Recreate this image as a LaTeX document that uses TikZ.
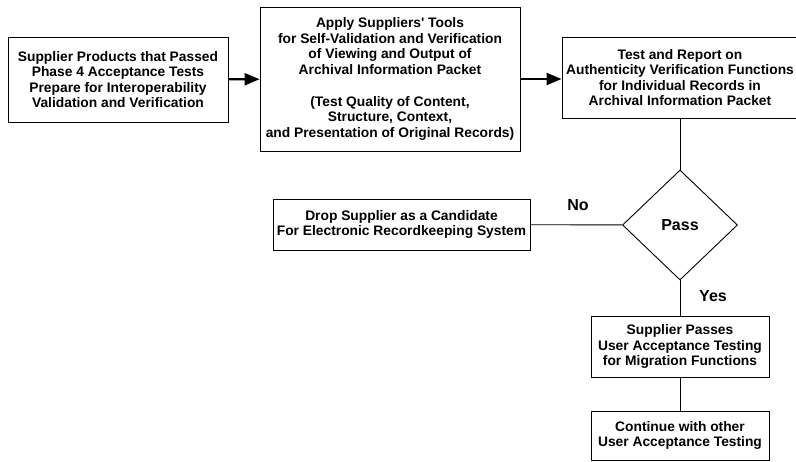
\documentclass[tikz,border=0pt]{standalone}
\usepackage{fontspec}
\setmainfont{Liberation Sans}
\usetikzlibrary{arrows.meta,shapes.geometric}
\tikzset{block/.style={draw, rectangle, line width=0.9pt, align=center, inner sep=2pt,
		font=\bfseries\fontsize{13.8}{15.4}\selectfont},
	decision/.style={draw, diamond, line width=0.9pt, inner sep=0pt,
		minimum width=115pt, minimum height=110pt, font=\bfseries\fontsize{16}{18}\selectfont},
	arrow/.style={draw, line width=2.4pt, -{Triangle[length=15pt,width=12pt]}},
	line/.style={draw, line width=0.9pt, -},
	answer/.style={font=\bfseries\fontsize{16}{18}\selectfont}}
\begin{document}
\begin{tikzpicture}[x=1pt,y=-1pt]
		\useasboundingbox (0,0) rectangle (796,462);
		\node[block, minimum width=220pt, minimum height=85pt](prep)at(118,79.5){Supplier Products that Passed\\Phase 4 Acceptance Tests\\Prepare for Interoperability\\Validation and Verification};
		\node[block, minimum width=260pt, minimum height=144pt](tools)at(390,79){Apply Suppliers\textquotesingle{} Tools\\for Self-Validation and Verification\\of Viewing and Output of\\Archival Information Packet\\[17pt](Test Quality of Content,\\Structure, Context,\\and Presentation of Original Records)};
		\node[block, minimum width=236pt, minimum height=81pt](auth)at(680,77.5){Test and Report on\\Authenticity Verification Functions\\for Individual Records in\\Archival Information Packet};
		\node[decision](pass)at(680,225){Pass};
		\node[block, minimum width=257pt, minimum height=51pt](drop)at(401.5,224.5){Drop Supplier as a Candidate\\For Electronic Recordkeeping System};
		\node[block, minimum width=178pt, minimum height=61pt](migr)at(680,346.5){Supplier Passes\\User Acceptance Testing\\for Migration Functions};
		\node[block, minimum width=178pt, minimum height=49pt](cont)at(680,435.5){Continue with other\\User Acceptance Testing};
		
		\node[answer](no)at(578,205){No};
		\node[answer](yes)at(713,296){Yes};
		
		\path[arrow](prep)--(tools);
		\path[arrow](tools)--(auth.west|-tools);
		\path[line](auth)--(pass);
		\path[line](pass)--(drop);
		\path[line](pass)--(migr);
		\path[line](migr)--(cont);
	\end{tikzpicture}
\end{document}
